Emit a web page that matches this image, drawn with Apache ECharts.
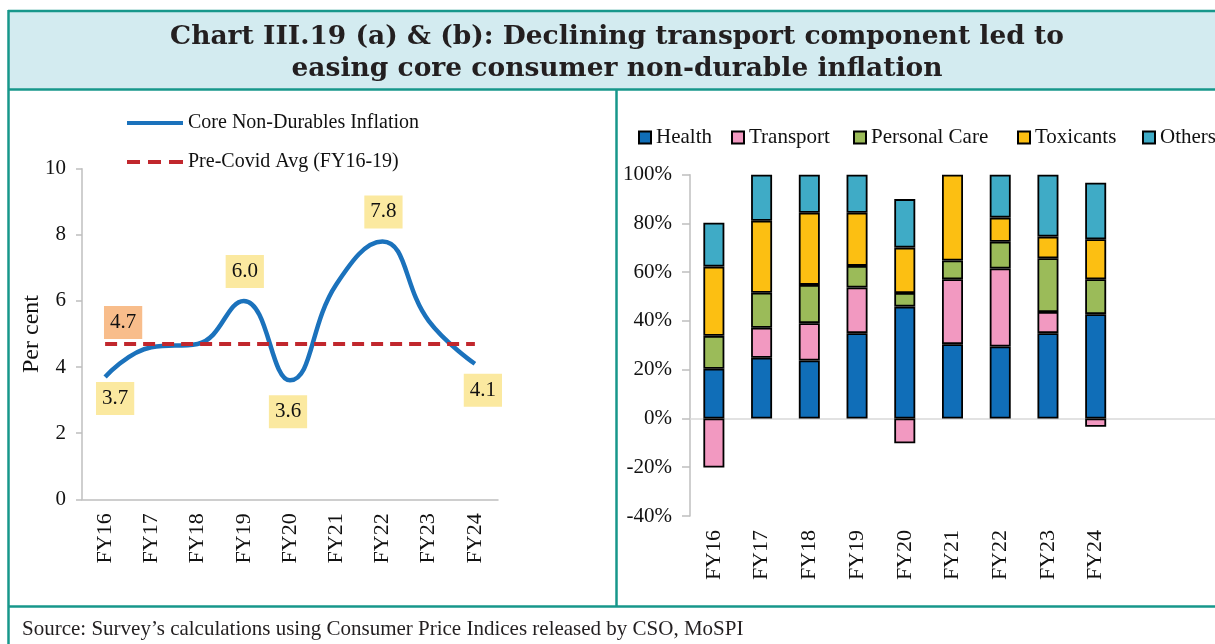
<!DOCTYPE html>
<html>
<head>
<meta charset="utf-8">
<title>Chart III.19 (a) &amp; (b)</title>
<script src="https://cdn.jsdelivr.net/npm/echarts@6/dist/echarts.min.js"></script>
<style>
  html, body { margin: 0; padding: 0; background: #ffffff; }
  #chart { width: 1215px; height: 644px; }
</style>
</head>
<body>
<div id="chart"></div>
<script>
// ---- data ----
const categories = ['FY16', 'FY17', 'FY18', 'FY19', 'FY20', 'FY21', 'FY22', 'FY23', 'FY24'];

// (a) core non-durables inflation, per cent
const coreInflation = [3.7, 4.6, 4.7, 6.0, 3.6, 6.5, 7.8, 5.4, 4.1];
const preCovidAvg = [4.7, 4.7, 4.7, 4.7, 4.7, 4.7, 4.7, 4.7, 4.7];
// points whose value is written in a box, and where the box sits
const labelledPoints = { 0: 'below', 3: 'above', 4: 'below', 6: 'above', 8: 'below' };

// (b) contribution to core non-durable inflation, per cent
const health        = [20.4, 24.9, 23.8, 35.0, 45.9, 30.5, 29.5, 35.0, 42.8];
const transport     = [-20.1, 12.3, 15.3, 18.7, -10.2, 26.6, 32.0, 8.7, -3.4];
const personalCare  = [13.5, 14.4, 15.7, 8.9, 5.6, 7.7, 11.0, 22.0, 14.3];
const toxicants     = [28.4, 29.5, 29.6, 21.8, 18.6, 35.2, 9.9, 8.9, 16.4];
const others        = [18.0, 18.9, 15.6, 15.6, 19.9, 0.5, 17.6, 25.4, 23.2];

const leftTicks = { min: 0, max: 10, interval: 2 };
const rightTicks = { min: -40, max: 100, interval: 20 };

// ---- styling ----
const SERIF = '"Liberation Serif", "Times New Roman", serif';
const TEAL = '#17978b';
const AXIS_GREY = '#bfbfbf';
const YELLOW_BOX = '#fbe9a0';
const ORANGE_BOX = '#f8bd8b';
const SOLID_ICON = 'path://M0,0h56v4h-56z';
const DASH_ICON = 'path://M0,0h13v4h-13z M21,0h13v4h-13z M42,0h14v4h-14z';

const chart = echarts.init(document.getElementById('chart'), null, { renderer: 'canvas' });

const boxLabel = (bg) => ({
  show: true,
  color: '#111',
  fontFamily: SERIF,
  fontSize: 21,
  lineHeight: 21,
  backgroundColor: bg,
  padding: [6, 6, 6, 6],
  formatter: (p) => Number(p.value).toFixed(1)
});

const coreData = coreInflation.map((v, i) => {
  const where = labelledPoints[i];
  if (!where) return v;
  const lbl = boxLabel(YELLOW_BOX);
  if (where === 'above') {
    lbl.position = 'top';
    lbl.distance = 13;
    lbl.offset = [1, 0];
  } else {
    lbl.position = 'bottom';
    lbl.distance = i === 4 ? 15 : (i === 8 ? 10 : 5);
    lbl.offset = i === 0 ? [10, 0] : (i === 8 ? [8, 0] : [-2, 0]);
  }
  return { value: v, label: lbl };
});

const avgData = preCovidAvg.map((v, i) => {
  if (i !== 0) return v;
  const lbl = boxLabel(ORANGE_BOX);
  lbl.position = 'top';
  lbl.distance = 5;
  lbl.offset = [18, 0];
  return { value: v, label: lbl };
});

const stackSeries = [
  ['Health', health, '#106eb8'],
  ['Transport', transport, '#f299c1'],
  ['Personal Care', personalCare, '#9bbb59'],
  ['Toxicants', toxicants, '#fcbf12'],
  ['Others', others, '#3fabc6']
].map(([name, values, color]) => ({
  name,
  type: 'bar',
  stack: 'contrib',
  xAxisIndex: 1,
  yAxisIndex: 1,
  barWidth: 21,
  data: values,
  itemStyle: { color, borderColor: '#000', borderWidth: 1.8 },
  emphasis: { disabled: true }
}));

// extra empty slots continue the zero line to the panel's edge
const rightAxisSlots = categories.concat(['', '']);

const legendLefts = [633, 726, 848, 1012, 1137];
const titleFont = 'bold 26.5px "DejaVu Serif", serif';

const option = {
  animation: false,
  backgroundColor: '#ffffff',
  textStyle: { fontFamily: SERIF },
  graphic: [
    // title band
    { type: 'rect', z: -10, shape: { x: 9, y: 12, width: 1220, height: 77 },
      style: { fill: '#d3ebf0' } },
    { type: 'line', z: 10, shape: { x1: 8, y1: 11, x2: 1230, y2: 11 }, style: { stroke: TEAL, lineWidth: 2.5 } },
    { type: 'line', z: 10, shape: { x1: 8.5, y1: 10, x2: 8.5, y2: 660 }, style: { stroke: TEAL, lineWidth: 2.5 } },
    { type: 'line', z: 10, shape: { x1: 8, y1: 89.5, x2: 1230, y2: 89.5 }, style: { stroke: TEAL, lineWidth: 2.5 } },
    { type: 'line', z: 10, shape: { x1: 616.5, y1: 89, x2: 616.5, y2: 606 }, style: { stroke: TEAL, lineWidth: 2.5 } },
    { type: 'line', z: 10, shape: { x1: 8, y1: 606.5, x2: 1230, y2: 606.5 }, style: { stroke: TEAL, lineWidth: 2.5 } },
    { type: 'text', x: 617, y: 24, z: 20,
      style: { text: 'Chart III.19 (a) & (b): Declining transport component led to',
        font: titleFont, fill: '#231f20', align: 'center', verticalAlign: 'top' } },
    { type: 'text', x: 617, y: 56, z: 20,
      style: { text: 'easing core consumer non-durable inflation',
        font: titleFont, fill: '#231f20', align: 'center', verticalAlign: 'top' } },
    { type: 'text', left: 22, top: 619, z: 20,
      style: { text: 'Source: Survey\u2019s calculations using Consumer Price Indices released by CSO, MoSPI',
        font: '21px ' + SERIF, fill: '#231f20' } }
  ],
  legend: [
    { data: [{ name: 'Core Non-Durables Inflation', icon: SOLID_ICON }], left: 122, top: 108,
      itemWidth: 56, itemHeight: 4,
      textStyle: { fontFamily: SERIF, fontSize: 20, color: '#111' }, selectedMode: false },
    { data: [{ name: 'Pre-Covid Avg (FY16-19)', icon: DASH_ICON }], left: 122, top: 147,
      itemWidth: 56, itemHeight: 4,
      textStyle: { fontFamily: SERIF, fontSize: 20, color: '#111' }, selectedMode: false }
  ].concat(stackSeries.map((s, i) => ({
    data: [s.name], left: legendLefts[i], top: 122, itemWidth: 12, itemHeight: 12, icon: 'rect',
    textStyle: { fontFamily: SERIF, fontSize: 21, color: '#111' }, selectedMode: false
  }))),
  grid: [
    { left: 82, top: 168.7, width: 416, height: 330.6 },
    { left: 690, top: 174.7, width: 546.7, height: 341.3 }
  ],
  xAxis: [
    { type: 'category', gridIndex: 0, data: categories, boundaryGap: true,
      axisLine: { lineStyle: { color: AXIS_GREY, width: 1.5 } },
      axisTick: { show: false },
      axisLabel: { rotate: 90, margin: 14, fontFamily: SERIF, fontSize: 22, color: '#111' } },
    { type: 'category', gridIndex: 1, data: rightAxisSlots, boundaryGap: true,
      axisLine: { show: false, onZero: false }, axisTick: { show: false },
      axisLabel: { rotate: 90, margin: 14, fontFamily: SERIF, fontSize: 22, color: '#111' } },
    { type: 'category', gridIndex: 1, data: rightAxisSlots, boundaryGap: true,
      axisLine: { show: true, onZero: true, lineStyle: { color: '#d9d9d9', width: 1.5 } },
      axisTick: { show: false }, axisLabel: { show: false } }
  ],
  yAxis: [
    { type: 'value', gridIndex: 0, min: leftTicks.min, max: leftTicks.max, interval: leftTicks.interval,
      name: 'Per cent', nameLocation: 'middle', nameGap: 38, nameMoveOverlap: false,
      nameTextStyle: { fontFamily: SERIF, fontSize: 24, color: '#111' },
      axisLine: { show: true, lineStyle: { color: AXIS_GREY, width: 1.5 } },
      axisTick: { show: true, length: 6, lineStyle: { color: AXIS_GREY, width: 1.5 } },
      splitLine: { show: false },
      axisLabel: { margin: 16, fontFamily: SERIF, fontSize: 21, color: '#111' } },
    { type: 'value', gridIndex: 1, min: rightTicks.min, max: rightTicks.max, interval: rightTicks.interval,
      axisLine: { show: true, lineStyle: { color: AXIS_GREY, width: 1.5 } },
      axisTick: { show: true, length: 8, lineStyle: { color: AXIS_GREY, width: 1.5 } },
      splitLine: { show: false },
      axisLabel: { margin: 18, formatter: '{value}%', fontFamily: SERIF, fontSize: 21, color: '#111' } }
  ],
  series: [
    { name: 'Pre-Covid Avg (FY16-19)', type: 'line', xAxisIndex: 0, yAxisIndex: 0,
      data: avgData, symbol: 'circle', symbolSize: 0, showSymbol: true, z: 3,
      color: '#c1272d',
      lineStyle: { color: '#c1272d', width: 4, type: [12, 7] },
      emphasis: { disabled: true } },
    { name: 'Core Non-Durables Inflation', type: 'line', xAxisIndex: 0, yAxisIndex: 0,
      data: coreData, symbol: 'circle', symbolSize: 0, showSymbol: true, smooth: 0.45, z: 2,
      color: '#1b72bc',
      lineStyle: { color: '#1b72bc', width: 4.5 },
      emphasis: { disabled: true } }
  ].concat(stackSeries)
};

chart.setOption(option);
</script>
</body>
</html>
